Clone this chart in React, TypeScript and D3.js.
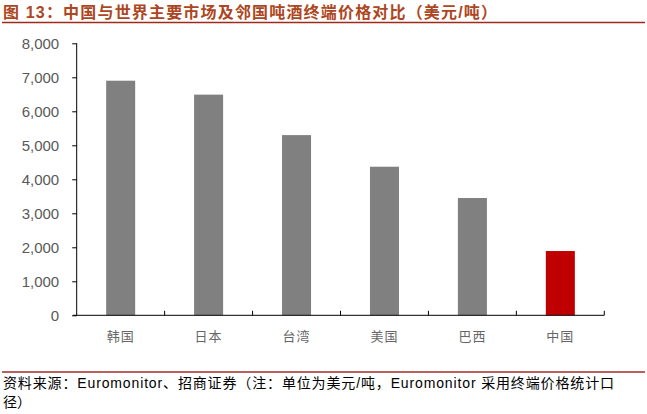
import * as React from 'react';
import * as d3 from 'd3';

const categories = ['韩国', '日本', '台湾', '美国', '巴西', '中国'];
const prices = [6900, 6490, 5300, 4370, 3450, 1890];
const yTicks = [0, 1000, 2000, 3000, 4000, 5000, 6000, 7000, 8000];
const titleText = '图 13：中国与世界主要市场及邻国吨酒终端价格对比（美元/吨）';
const sourceLines = [
    '资料来源：Euromonitor、招商证券（注：单位为美元/吨，Euromonitor 采用终端价格统计口',
    '径）'
];

const width = 647;
const height = 414;
const plot = { left: 76.7, right: 604.3, top: 43.3, bottom: 315.3 };
const cjkFont = '"Noto Sans CJK SC", "Noto Sans", sans-serif';
const mixedFont = '"Liberation Sans", "Noto Sans CJK SC", sans-serif';
const numFont = '"Liberation Sans", Arial, sans-serif';

class App extends React.Component<object, object> {
    private svgElement: SVGSVGElement | null = null;

    render() {
        return <svg
            ref={node => { this.svgElement = node; }}
            width={width}
            height={height}
            style={{ position: 'absolute', left: 0, top: 0, background: '#fff' }}>
        </svg>;
    }

    componentDidMount() {
        this.drawChart();
    }

    drawChart() {
        const svg = d3.select(this.svgElement);
        svg.selectAll('*').remove();

        const xScale = d3.scaleBand<string>()
            .domain(categories)
            .range([plot.left, plot.right])
            .paddingInner(0.67)
            .paddingOuter(0.335);
        const step = xScale.step();

        const yScale = d3.scaleLinear()
            .domain([0, 8000])
            .range([plot.bottom, plot.top]);

        // title + rule
        svg.append('text')
            .attr('x', 3)
            .attr('y', 18)
            .attr('textLength', 494)
            .attr('lengthAdjust', 'spacing')
            .style('font-family', mixedFont)
            .style('font-size', '16px')
            .style('font-weight', 'bold')
            .style('fill', '#AD4622')
            .text(titleText);

        svg.append('line')
            .attr('x1', 2).attr('x2', 645)
            .attr('y1', 22.5).attr('y2', 22.5)
            .style('stroke', '#9E2A1A')
            .style('stroke-width', 1.5);

        // bars
        svg.append('g')
            .selectAll('rect')
            .data(categories)
            .enter()
            .append('rect')
            .attr('x', d => xScale(d) as number)
            .attr('width', xScale.bandwidth())
            .attr('y', (d, i) => yScale(prices[i]))
            .attr('height', (d, i) => plot.bottom - yScale(prices[i]))
            .style('fill', d => d === '中国' ? '#C00000' : '#808080');

        // y axis with minor ticks
        const minor = d3.range(0, 8001, 200).filter(v => v % 1000 !== 0);
        const yAxisGroup = svg.append('g')
            .attr('transform', `translate(${plot.left},0)`);
        yAxisGroup.call(
            d3.axisLeft(yScale)
                .tickValues(minor)
                .tickSize(3.5)
                .tickFormat(() => '')
        );
        yAxisGroup.call(
            d3.axisLeft(yScale)
                .tickValues(yTicks)
                .tickSize(4.5)
                .tickPadding(13)
                .tickFormat(d3.format(','))
        );
        yAxisGroup.selectAll('.domain').attr('d', `M0,${plot.top}V${plot.bottom}`).style('stroke', '#000');
        yAxisGroup.selectAll('.tick line').style('stroke', '#000');
        yAxisGroup.selectAll('text')
            .style('font-family', numFont)
            .style('font-size', '15px')
            .style('fill', '#595959');

        // x axis: ticks between categories, pointing up
        const boundaries = d3.range(1, categories.length + 1).map(i => plot.left + i * step);
        const xAxisGroup = svg.append('g');
        xAxisGroup.append('line')
            .attr('x1', plot.left - 4).attr('x2', plot.right)
            .attr('y1', plot.bottom).attr('y2', plot.bottom)
            .style('stroke', '#000');
        xAxisGroup.selectAll('.btick')
            .data(boundaries)
            .enter()
            .append('line')
            .attr('x1', d => d).attr('x2', d => d)
            .attr('y1', plot.bottom).attr('y2', plot.bottom - 4.5)
            .style('stroke', '#000');
        xAxisGroup.selectAll('.cat')
            .data(categories)
            .enter()
            .append('text')
            .attr('x', d => (xScale(d) as number) + xScale.bandwidth() / 2)
            .attr('y', 341)
            .attr('text-anchor', 'middle')
            .style('font-family', cjkFont)
            .style('font-size', '13px')
            .style('letter-spacing', '1px')
            .style('fill', '#666666')
            .text(d => d);

        // source
        svg.append('line')
            .attr('x1', 2).attr('x2', 645)
            .attr('y1', 372).attr('y2', 372)
            .style('stroke', '#A52A2A')
            .style('stroke-width', 1.3);

        svg.append('text')
            .attr('x', 3)
            .attr('y', 388)
            .attr('textLength', 611)
            .attr('lengthAdjust', 'spacing')
            .style('font-family', mixedFont)
            .style('font-size', '14px')
            .style('fill', '#000')
            .text(sourceLines[0]);
        svg.append('text')
            .attr('x', 3)
            .attr('y', 407)
            .style('font-family', mixedFont)
            .style('font-size', '14px')
            .style('fill', '#000')
            .text(sourceLines[1]);
    }
}

export default App;
